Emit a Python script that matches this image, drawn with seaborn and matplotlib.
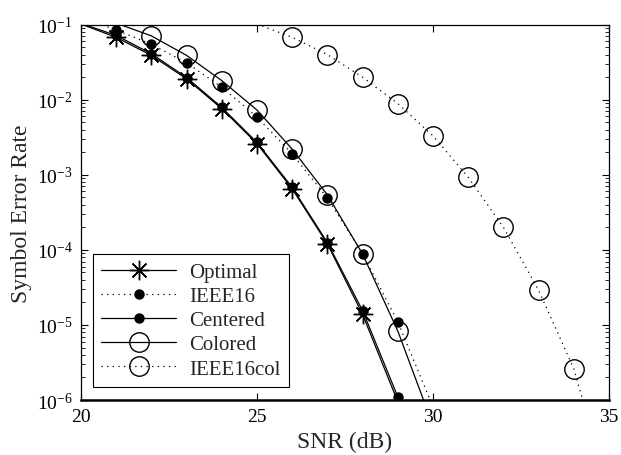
import numpy as np
import pandas as pd
import seaborn as sns
import matplotlib
matplotlib.use("Agg")
import matplotlib.pyplot as plt
from matplotlib.ticker import LogLocator, NullFormatter

# symbol error rate vs SNR
snr = np.arange(20, 36)
nan = np.nan
optimal = [0.102, 0.068, 0.039, 0.019, 0.0076, 0.0026, 6.5e-4, 1.2e-4, 1.38e-5, 9.5e-7,
           nan, nan, nan, nan, nan, nan]
ieee16 = [0.125, 0.085, 0.055, 0.031, 0.0147, 0.0059, 0.0019, 4.9e-4, 8.9e-5, 1.1e-5,
          8.1e-7, nan, nan, nan, nan, nan]
centered = [0.104, 0.072, 0.041, 0.0198, 0.0079, 0.0027, 6.8e-4, 1.25e-4, 1.55e-5, 1.1e-6,
            nan, nan, nan, nan, nan, nan]
colored = [nan, 0.105, 0.071, 0.039, 0.018, 0.0073, 0.0022, 5.4e-4, 8.8e-5, 8.3e-6,
           4.6e-7, nan, nan, nan, nan, nan]
ieee16col = [nan, nan, nan, nan, nan, 0.102, 0.068, 0.040, 0.020, 0.0089,
             0.0033, 9.3e-4, 2.0e-4, 2.9e-5, 2.6e-6, 6e-8]

series_names = ['Optimal', 'IEEE16', 'Centered', 'Colored', 'IEEE16col']
series_values = [optimal, ieee16, centered, colored, ieee16col]

y_min, y_max = 1e-6, 1e-1
dotted = (0, (1, 3.5))
styles = {
    'Optimal':   dict(linestyle='-', marker=(8, 2, 0), markersize=14, markerfacecolor='black'),
    'IEEE16':    dict(linestyle=dotted, marker='o', markersize=6.5, markerfacecolor='black'),
    'Centered':  dict(linestyle='-', marker='o', markersize=6.5, markerfacecolor='black'),
    'Colored':   dict(linestyle='-', marker='o', markersize=14, markerfacecolor='none'),
    'IEEE16col': dict(linestyle=dotted, marker='o', markersize=14, markerfacecolor='none'),
}

sns.set_style("ticks")
plt.rcParams['font.family'] = ['Liberation Serif', 'DejaVu Serif']
plt.rcParams['mathtext.fontset'] = 'custom'
plt.rcParams['mathtext.rm'] = 'Liberation Serif'
plt.rcParams['mathtext.it'] = 'Liberation Serif:italic'

fig = plt.figure(figsize=(6.21, 4.56), dpi=100)
ax = fig.add_axes([0.1304, 0.1206, 0.8503, 0.8230])

for name, vals in zip(series_names, series_values):
    df = pd.DataFrame({'snr': snr, 'ser': vals}).dropna()
    # markers only where the point sits inside the plotted range (like MATLAB)
    show = ((df['ser'] >= y_min) & (df['ser'] <= y_max)).to_numpy()
    sns.lineplot(data=df, x='snr', y='ser', ax=ax, color='black', linewidth=0.9,
                 markeredgecolor='black', markeredgewidth=1.0, markevery=list(show),
                 label=name, **styles[name])

ax.set_yscale('log')
ax.set_xlim(20, 35)
ax.set_ylim(y_min, y_max)
ax.set_xticks([20, 25, 30, 35])
ax.yaxis.set_major_locator(LogLocator(base=10, numticks=10))
ax.yaxis.set_minor_locator(LogLocator(base=10, subs=np.arange(2, 10), numticks=10))
ax.yaxis.set_minor_formatter(NullFormatter())

ax.tick_params(which='both', direction='in', top=True, right=True, colors='black',
               labelsize=14, pad=6)
ax.tick_params(which='major', length=5, width=0.8)
ax.tick_params(which='minor', length=3, width=0.6)
for side, sp in ax.spines.items():
    sp.set_color('black')
    sp.set_linewidth(1.8 if side == 'bottom' else 0.9)

ax.set_xlabel('SNR (dB)', fontsize=17, labelpad=4)
ax.set_ylabel('Symbol Error Rate', fontsize=17, labelpad=3)

leg = ax.legend(loc='lower left', bbox_to_anchor=(0.0227, 0.0347), borderaxespad=0,
                fontsize=15, handlelength=3.6, labelspacing=0.22, handletextpad=0.6,
                borderpad=0.4, fancybox=False, framealpha=1)
leg.get_frame().set_edgecolor('black')
leg.get_frame().set_linewidth(0.8)

fig.savefig('out.png', dpi=100)
